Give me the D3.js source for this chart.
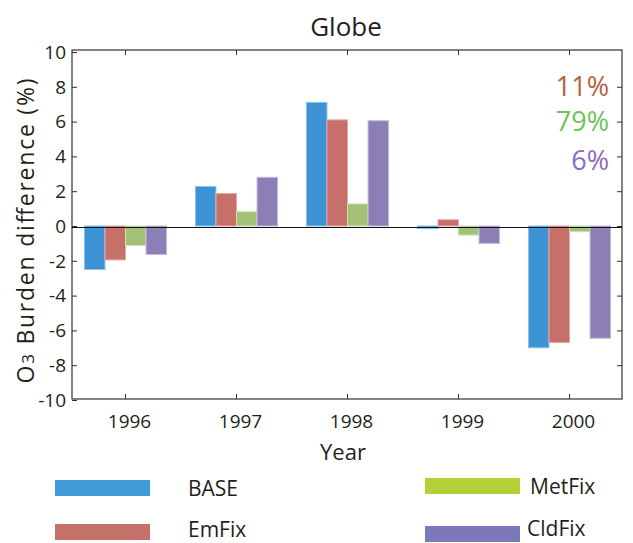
<!DOCTYPE html>
<html>
<head>
<meta charset="utf-8">
<script src="https://cdn.jsdelivr.net/npm/d3@7"></script>
<style>
  body { margin: 0; background: #fff; }
  text { font-family: "Open Sans", "DejaVu Sans", sans-serif; fill: #231f20; }
</style>
</head>
<body>
<script>
var width = 633, height = 543;

var years = ["1996", "1997", "1998", "1999", "2000"];
var series = ["BASE", "EmFix", "MetFix", "CldFix"];
var base = [-2.5, 2.27, 7.1, -0.15, -7.0];
var emFix = [-1.95, 1.87, 6.1, 0.36, -6.7];
var metFix = [-1.12, 0.82, 1.27, -0.52, -0.33];
var cldFix = [-1.64, 2.8, 6.05, -1.0, -6.45];
var yTicks = [-10, -8, -6, -4, -2, 0, 2, 4, 6, 8, 10];
var shares = ["11%", "79%", "6%"];

var values = [base, emFix, metFix, cldFix];
var barFill = ["#3d93d3", "#c76f69", "#a4c17a", "#8b7fb5"];
var barEdge = ["#8cc3ee", "#e3aaa6", "#cfe0b4", "#c3bbe0"];
var legendFill = ["#3f9ad6", "#c4716a", "#b2d136", "#7c79b9"];
var shareColor = ["#b9603e", "#6bc35a", "#8a6bbf"];

var svg = d3.select("body").append("svg")
  .attr("width", width)
  .attr("height", height);

var plotL = 72, plotR = 622, plotT = 50, plotB = 399;

var x = d3.scaleBand().domain(years).range([70, 625])
  .paddingInner(0.26).paddingOuter(0.13);
var xs = d3.scaleBand().domain(series).range([0, x.bandwidth()]);
var y = d3.scaleLinear().domain([-10, 10]).range([400, 52]);

// bars
var groups = svg.selectAll(".year")
  .data(years)
  .enter().append("g")
  .attr("class", "year")
  .attr("transform", function(d) { return "translate(" + x(d) + ",0)"; });

groups.selectAll("rect")
  .data(function(d, i) { return series.map(function(s, j) { return {s: s, j: j, v: values[j][i]}; }); })
  .enter().append("rect")
  .attr("x", function(d) { return xs(d.s); })
  .attr("width", xs.bandwidth())
  .attr("y", function(d) { return y(Math.max(0, d.v)); })
  .attr("height", function(d) { return Math.abs(y(d.v) - y(0)); })
  .attr("fill", function(d) { return barFill[d.j]; })
  .attr("stroke", function(d) { return barEdge[d.j]; })
  .attr("stroke-width", 1);

// frame
svg.append("rect")
  .attr("x", plotL).attr("y", plotT)
  .attr("width", plotR - plotL).attr("height", plotB - plotT)
  .attr("fill", "none").attr("stroke", "#333").attr("stroke-width", 1.2);

// zero line
svg.append("line")
  .attr("x1", plotL).attr("x2", plotR)
  .attr("y1", y(0) + 1.5).attr("y2", y(0) + 1.5)
  .attr("stroke", "#111").attr("stroke-width", 1.2);

// y axis ticks, left and right
var yl = svg.append("g").attr("transform", "translate(" + plotL + ",0)")
  .call(d3.axisRight(y).tickValues(yTicks).tickSize(5).tickFormat(""));
var yr = svg.append("g").attr("transform", "translate(" + plotR + ",0)")
  .call(d3.axisLeft(y).tickValues(yTicks.slice(1, -1)).tickSize(5).tickFormat(""));
[yl, yr].forEach(function(g) {
  g.select(".domain").remove();
  g.selectAll("line").attr("stroke", "#333");
});

svg.selectAll(".ylab")
  .data(yTicks)
  .enter().append("text")
  .attr("class", "ylab")
  .attr("x", 66)
  .attr("y", function(d) { return y(d); })
  .attr("dy", "0.36em")
  .attr("text-anchor", "end")
  .attr("font-size", 19)
  .text(function(d) { return d; });

// x ticks, bottom and top
var xb = svg.append("g").attr("transform", "translate(0," + plotB + ")")
  .call(d3.axisTop(x).tickSize(5).tickFormat(""));
var xt = svg.append("g").attr("transform", "translate(0," + plotT + ")")
  .call(d3.axisBottom(x).tickSize(5).tickFormat(""));
[xb, xt].forEach(function(g) {
  g.select(".domain").remove();
  g.selectAll("line").attr("stroke", "#333");
});

svg.selectAll(".xlab")
  .data(years)
  .enter().append("text")
  .attr("class", "xlab")
  .attr("x", function(d) { return x(d) + x.bandwidth() / 2 + 4; })
  .attr("y", 428)
  .attr("text-anchor", "middle")
  .attr("font-size", 19)
  .text(function(d) { return d; });

// titles
svg.append("text")
  .attr("x", 346).attr("y", 36)
  .attr("text-anchor", "middle")
  .attr("font-size", 26)
  .text("Globe");

svg.append("text")
  .attr("x", 343).attr("y", 460)
  .attr("text-anchor", "middle")
  .attr("font-size", 22)
  .text("Year");

var ylab = svg.append("text")
  .attr("transform", "translate(34,231) rotate(-90)")
  .attr("text-anchor", "middle")
  .attr("font-size", 23)
  .attr("textLength", 305)
  .attr("lengthAdjust", "spacing");
ylab.append("tspan").text("O");
ylab.append("tspan").attr("font-size", 17).text("3");
ylab.append("tspan").text(" Burden difference (%)");

// share labels
svg.selectAll(".share")
  .data(shares)
  .enter().append("text")
  .attr("class", "share")
  .attr("x", 609)
  .attr("y", function(d, i) { return [96, 131, 170][i]; })
  .attr("text-anchor", "end")
  .attr("font-size", 27)
  .style("fill", function(d, i) { return shareColor[i]; })
  .text(function(d) { return d; });

// legend
var legPos = [[55, 480, 188, 488], [55, 524, 188, 529], [425, 478, 530, 486], [425, 526, 527, 528]];
var leg = svg.selectAll(".leg")
  .data(series)
  .enter().append("g")
  .attr("class", "leg");
leg.append("rect")
  .attr("x", function(d, i) { return legPos[i][0]; })
  .attr("y", function(d, i) { return legPos[i][1]; })
  .attr("width", 95).attr("height", 16)
  .attr("fill", function(d, i) { return legendFill[i]; });
leg.append("text")
  .attr("x", function(d, i) { return legPos[i][2]; })
  .attr("y", function(d, i) { return legPos[i][3]; })
  .attr("dy", "0.36em")
  .attr("font-size", 21)
  .text(function(d) { return d; });
</script>
</body>
</html>
